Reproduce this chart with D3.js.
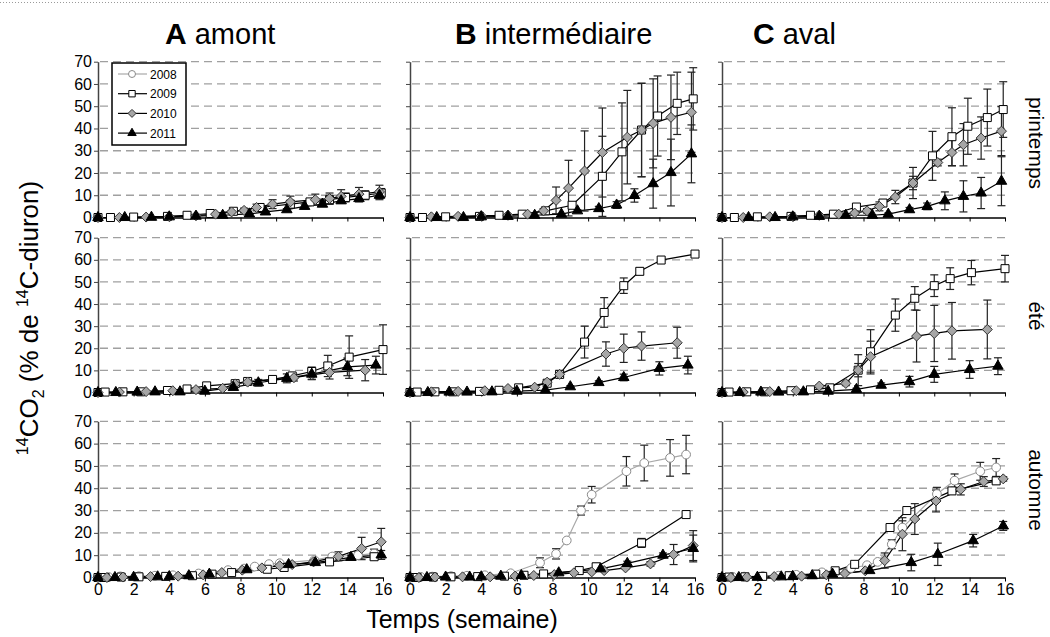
<!DOCTYPE html>
<html>
<head>
<meta charset="utf-8">
<script src="https://cdn.jsdelivr.net/npm/d3@7"></script>
<style>
  body { margin: 0; background: #fff; }
  svg { font-family: "Liberation Sans", Arial, sans-serif; }
</style>
</head>
<body>
<div id="chart"></div>
<script>
// ---- categories / ticks ----
const years = ['2008', '2009', '2010', '2011'];
const sites = ['amont', 'intermédiaire', 'aval'];
const siteLetters = ['A', 'B', 'C'];
const seasons = ['printemps', 'été', 'automne'];
const xTicks = [0, 2, 4, 6, 8, 10, 12, 14, 16];
const yTicks = [0, 10, 20, 30, 40, 50, 60, 70];

// ---- sampling times (semaines), per season and year ----
const tPrintemps2009 = [0, 0.7, 2, 3.9, 5.0, 6.3, 7.6, 9.1, 10.8, 11.9, 13.0, 13.9, 15.0, 15.9];
const tPrintemps2010 = [0, 1.2, 2.7, 4.0, 5.5, 6.6, 7.5, 8.2, 8.9, 9.8, 10.8, 12.2, 13.0, 13.65, 14.65, 15.8];
const tPrintemps2011 = [0, 1.5, 3.0, 4.0, 5.5, 7.0, 8.5, 9.4, 10.6, 11.6, 12.6, 13.65, 14.65, 15.8];
const tEte2009 = [0, 0.4, 1.4, 2.4, 3.9, 5.0, 6.1, 7.7, 8.4, 9.8, 10.9, 12.0, 12.9, 14.1, 16.0];
const tEte2010 = [0, 1.2, 2.7, 4.2, 5.5, 7.0, 7.7, 8.4, 11.0, 12.0, 13.0, 15.0];
const tEte2011 = [0, 1.0, 2.2, 3.2, 4.6, 6.0, 7.6, 9.0, 10.6, 12.0, 14.0, 15.6];
const tAutomne2008 = [0, 0.6, 1.25, 2.3, 3.2, 4.2, 5.65, 7.3, 8.2, 8.8, 9.6, 10.2, 12.15, 13.15, 14.6, 15.5];
const tAutomne2009 = [0, 0.4, 1.3, 2.3, 3.8, 5.3, 6.4, 7.5, 9.5, 10.45, 13.0, 15.5];
const tAutomne2010 = [0, 0.5, 1.4, 2.95, 4.5, 5.9, 6.95, 8.1, 9.2, 10.2, 10.9, 12.1, 13.5, 14.8, 15.9];
const tAutomne2011 = [0, 0.95, 2.0, 3.35, 4.0, 5.1, 6.25, 8.35, 10.7, 12.2, 14.2, 15.9];

// ---- 14CO2 values (% of 14C-diuron) and error bars ----
// printemps
const prAmont2009 = [0, 0, 0.2, 0.5, 1, 1.8, 2.8, 4.5, 6, 7, 8, 9, 10, 11];
const prAmont2009Err = [0, 0, 0, 0, 0, 0.3, 0.5, 1, 1.5, 1.5, 2, 2, 2, 2];
const prAmont2010 = [0, 0, 0.2, 0.4, 0.8, 1.5, 2.5, 3.2, 4.5, 6, 7, 8, 8.5, 9.5, 10.5, 11.5];
const prAmont2010Err = [0, 0, 0, 0, 0, 0.3, 0.5, 1, 1.5, 2, 2.6, 2.5, 2.5, 3, 3, 3];
const prAmont2011 = [0, 0, 0.1, 0.3, 0.6, 1, 1.6, 2.5, 3.5, 5, 6, 7.5, 8.5, 10];
const prAmont2011Err = [0, 0, 0, 0, 0, 0, 0, 0.5, 0.5, 1, 1, 1, 1.5, 2];
const prInter2009 = [0, 0, 0.3, 0.5, 1, 1.5, 3, 5.5, 18.5, 29.5, 39.3, 45.6, 51.3, 53.3];
const prInter2009Err = [0, 0, 0, 0, 0, 0, 0.5, 1, 18, 22, 21, 18, 14, 14];
const prInter2010 = [0, 0.3, 0.5, 0.8, 1, 1.5, 3, 7.7, 13.2, 20.9, 29.2, 36.1, 39.3, 42.3, 45, 47.3];
const prInter2010Err = [0, 0, 0, 0, 0, 0, 1, 6, 12.5, 18, 20, 21, 21, 20, 19, 18];
const prInter2011 = [0, 0, 0, 0.3, 0.5, 1, 1.5, 3, 4, 5.6, 9.9, 15.2, 20.2, 28.6];
const prInter2011Err = [0, 0, 0, 0, 0, 0, 0, 0.5, 1, 1.5, 3, 11, 15, 13];
const prAval2009 = [0, 0, 0.3, 0.5, 1, 1.5, 4.7, 6.5, 15.5, 27.7, 36.3, 41, 44.9, 48.5];
const prAval2009Err = [0, 0, 0, 0, 0, 0.5, 1, 1.5, 7, 11, 13, 12.6, 12.8, 12.5];
const prAval2010 = [0, 0, 0.3, 0.5, 1, 1.5, 2, 3, 5, 9.2, 15.5, 24.7, 29.2, 32.7, 35.7, 38.8];
const prAval2010Err = [0, 0, 0, 0, 0, 0, 0.5, 1, 2, 3, 3, 1.5, 6, 9.5, 9.5, 11];
const prAval2011 = [0, 0, 0, 0.3, 0.5, 1, 1, 1.5, 3.5, 5, 7.5, 9.5, 11, 16.3];
const prAval2011Err = [0, 0, 0, 0, 0, 0, 0, 0.5, 1, 1.5, 4, 7, 7, 11];
// été
const etAmont2009 = [0, 0.2, 0.3, 0.3, 0.9, 1.6, 3, 4, 5, 5.9, 7.5, 9.5, 12, 16, 19.4];
const etAmont2009Err = [0, 0, 0, 0, 0, 0, 0.5, 0.5, 0.8, 0.8, 1.5, 2, 4.8, 9.6, 11.2];
const etAmont2010 = [0, 0.2, 0.4, 0.8, 1.3, 1.9, 3.9, 4.7, 6.7, 8, 9.1, 10.1];
const etAmont2010Err = [0, 0, 0, 0, 0, 0.5, 1, 1, 1.5, 2, 3, 4.8];
const etAmont2011 = [0, 0, 0.2, 0.3, 0.3, 0.6, 2.3, 4.4, 6.4, 8.3, 11.6, 12.4];
const etAmont2011Err = [0, 0, 0, 0, 0, 0, 0.5, 1.5, 2, 2.5, 4, 4];
const etInter2009 = [0, 0.2, 0.3, 0.3, 0.5, 1, 2.1, 4.2, 8.2, 22.8, 36.2, 48.3, 54.8, 59.9, 62.6];
const etInter2009Err = [0, 0, 0, 0, 0, 0, 0.5, 1, 1, 7.2, 6.7, 3.5, 1.5, 0.5, 0.5];
const etInter2010 = [0, 0.3, 0.5, 0.8, 1.8, 2.4, 4.7, 8.2, 17.4, 20, 21, 22.5];
const etInter2010Err = [0, 0, 0, 0, 0, 0.5, 1, 1.5, 5.5, 6.4, 6.4, 7];
const etInter2011 = [0, 0, 0.2, 0.2, 0.3, 0.6, 1.1, 2.6, 4.5, 6.8, 10.9, 12.4];
const etInter2011Err = [0, 0, 0, 0, 0, 0, 0, 0.5, 0.8, 1.5, 3, 4];
const etAval2009 = [0, 0.2, 0.3, 0.3, 0.8, 1.2, 2.1, 10.1, 18.4, 35, 42.6, 48.3, 51.5, 54.2, 56];
const etAval2009Err = [0, 0, 0, 0, 0, 0, 0.5, 3, 10, 7.3, 5.3, 4.9, 4.9, 5.5, 6];
const etAval2010 = [0, 0.2, 0.4, 0.8, 2.9, 4.1, 10.1, 16.2, 25.5, 26.7, 27.9, 28.5];
const etAval2010Err = [0, 0, 0, 0, 0.5, 1, 7, 7, 11.7, 12.7, 12.8, 13.3];
const etAval2011 = [0, 0, 0.2, 0.2, 0.3, 0.6, 1.4, 3.3, 4.9, 8.2, 10.4, 11.9];
const etAval2011Err = [0, 0, 0, 0, 0, 0, 0.5, 1, 2.4, 3.6, 4, 3.8];
// automne
const auAmont2008 = [0, 0.2, 0.5, 0.6, 0.8, 1, 1.8, 3.3, 4, 4.9, 6, 6.4, 7.8, 9.4, 10, 10.7];
const auAmont2008Err = [0, 0, 0, 0, 0, 0, 0, 0, 0, 0, 0, 0, 0.5, 1, 1.5, 2];
const auAmont2009 = [0, 0, 0.2, 0.3, 0.5, 0.8, 1.5, 2.2, 3.7, 4.5, 7, 9.3];
const auAmont2009Err = [0, 0, 0, 0, 0, 0, 0, 0, 0, 0, 0.5, 1];
const auAmont2010 = [0, 0, 0.2, 0.4, 0.6, 1.2, 2.2, 3.3, 4.3, 5.3, 5.8, 7, 9.5, 13, 16];
const auAmont2010Err = [0, 0, 0, 0, 0, 0, 0, 0, 0, 0, 0.5, 1, 2, 5, 6];
const auAmont2011 = [0, 0, 0.1, 0.3, 0.4, 0.8, 1.5, 3.5, 5.8, 6.7, 9, 10.1];
const auAmont2011Err = [0, 0, 0, 0, 0, 0, 0, 0, 0, 0.5, 1, 2];
const auInter2008 = [0, 0.3, 0.4, 0.6, 0.8, 1, 1.9, 6.6, 10.6, 16.6, 30, 37.1, 47.6, 51.3, 53.6, 55.1];
const auInter2008Err = [0, 0, 0, 0, 0, 0, 0, 2.2, 2.3, 0, 2, 3.7, 6.6, 8, 8.2, 8.6];
const auInter2009 = [0, 0, 0.2, 0.3, 0.4, 0.6, 1, 1.6, 3.1, 4.8, 15.5, 28.2];
const auInter2009Err = [0, 0, 0, 0, 0, 0, 0, 0, 0.5, 1.5, 2, 0.5];
const auInter2010 = [0, 0, 0.2, 0.3, 0.3, 0.6, 0.9, 1.3, 2.1, 2.5, 3.1, 4.3, 6.1, 10.3, 14.3];
const auInter2010Err = [0, 0, 0, 0, 0, 0, 0, 0, 0, 0, 0, 0.5, 1, 4.5, 6.7];
const auInter2011 = [0, 0, 0.2, 0.2, 0.3, 0.6, 0.9, 2.1, 3.9, 6.3, 10, 13];
const auInter2011Err = [0, 0, 0, 0, 0, 0, 0, 0, 0.5, 1, 1, 6];
const auAval2008 = [0, 0.3, 0.4, 0.6, 0.8, 1.2, 2.3, 4.2, 5.5, 7, 14.9, 22.4, 37.4, 43.4, 47.6, 49.3];
const auAval2008Err = [0, 0, 0, 0, 0, 0, 0, 0, 0, 0, 2, 3, 3, 3, 4, 4];
const auAval2009 = [0, 0.2, 0.3, 0.5, 0.8, 1.5, 3, 5.9, 22.4, 30, 38.8, 43.3];
const auAval2009Err = [0, 0, 0, 0, 0, 0, 0, 0, 0, 1, 1.5, 1.5];
const auAval2010 = [0, 0, 0.2, 0.4, 0.6, 1.2, 1.8, 3, 7.6, 19.4, 26.2, 34.3, 39.5, 43, 44.2];
const auAval2010Err = [0, 0, 0, 0, 0, 0, 0, 0, 3.4, 7.4, 6.9, 4.9, 2.5, 2.2, 1];
const auAval2011 = [0, 0, 0.1, 0.3, 0.5, 0.8, 1.5, 3.1, 6.7, 10.4, 16.5, 23.1];
const auAval2011Err = [0, 0, 0, 0, 0, 0, 0, 0, 3.7, 5, 2.8, 2];

// season, site, year, times, values, errors
const seriesTable = [
  ['printemps', 'amont', '2009', tPrintemps2009, prAmont2009, prAmont2009Err],
  ['printemps', 'amont', '2010', tPrintemps2010, prAmont2010, prAmont2010Err],
  ['printemps', 'amont', '2011', tPrintemps2011, prAmont2011, prAmont2011Err],
  ['printemps', 'intermédiaire', '2009', tPrintemps2009, prInter2009, prInter2009Err],
  ['printemps', 'intermédiaire', '2010', tPrintemps2010, prInter2010, prInter2010Err],
  ['printemps', 'intermédiaire', '2011', tPrintemps2011, prInter2011, prInter2011Err],
  ['printemps', 'aval', '2009', tPrintemps2009, prAval2009, prAval2009Err],
  ['printemps', 'aval', '2010', tPrintemps2010, prAval2010, prAval2010Err],
  ['printemps', 'aval', '2011', tPrintemps2011, prAval2011, prAval2011Err],
  ['été', 'amont', '2009', tEte2009, etAmont2009, etAmont2009Err],
  ['été', 'amont', '2010', tEte2010, etAmont2010, etAmont2010Err],
  ['été', 'amont', '2011', tEte2011, etAmont2011, etAmont2011Err],
  ['été', 'intermédiaire', '2009', tEte2009, etInter2009, etInter2009Err],
  ['été', 'intermédiaire', '2010', tEte2010, etInter2010, etInter2010Err],
  ['été', 'intermédiaire', '2011', tEte2011, etInter2011, etInter2011Err],
  ['été', 'aval', '2009', tEte2009, etAval2009, etAval2009Err],
  ['été', 'aval', '2010', tEte2010, etAval2010, etAval2010Err],
  ['été', 'aval', '2011', tEte2011, etAval2011, etAval2011Err],
  ['automne', 'amont', '2008', tAutomne2008, auAmont2008, auAmont2008Err],
  ['automne', 'amont', '2009', tAutomne2009, auAmont2009, auAmont2009Err],
  ['automne', 'amont', '2010', tAutomne2010, auAmont2010, auAmont2010Err],
  ['automne', 'amont', '2011', tAutomne2011, auAmont2011, auAmont2011Err],
  ['automne', 'intermédiaire', '2008', tAutomne2008, auInter2008, auInter2008Err],
  ['automne', 'intermédiaire', '2009', tAutomne2009, auInter2009, auInter2009Err],
  ['automne', 'intermédiaire', '2010', tAutomne2010, auInter2010, auInter2010Err],
  ['automne', 'intermédiaire', '2011', tAutomne2011, auInter2011, auInter2011Err],
  ['automne', 'aval', '2008', tAutomne2008, auAval2008, auAval2008Err],
  ['automne', 'aval', '2009', tAutomne2009, auAval2009, auAval2009Err],
  ['automne', 'aval', '2010', tAutomne2010, auAval2010, auAval2010Err],
  ['automne', 'aval', '2011', tAutomne2011, auAval2011, auAval2011Err]
];

// ---- layout ----
const W = 1050, H = 637;
const colRange = [[98, 383], [410, 695], [722, 1005]];          // x(0), x(16)
const rowRange = [[217.5, 61.7], [392.5, 237.7], [577.5, 421.3]]; // y(0), y(70)
const titleX = [165, 455, 753];
const seasonLabelY = [143, 316, 490];

const yearStyle = {
  '2008': { line: '#a8a8a8', fill: '#ffffff', stroke: '#8a8a8a', shape: 'circle' },
  '2009': { line: '#000000', fill: '#ffffff', stroke: '#000000', shape: 'square' },
  '2010': { line: '#000000', fill: '#a6a6a6', stroke: '#333333', shape: 'diamond' },
  '2011': { line: '#000000', fill: '#000000', stroke: '#000000', shape: 'triangle' }
};

function markerPath(shape, k = 1) {
  if (shape === 'circle') return d3.symbol(d3.symbolCircle, 60 * k * k)();
  if (shape === 'square') return d3.symbol(d3.symbolSquare, 64 * k * k)();
  if (shape === 'triangle') return d3.symbol(d3.symbolTriangle, 48 * k * k)();
  const r = 5 * k;
  return `M0,${-r}L${r},0L0,${r}L${-r},0Z`;
}

const svg = d3.select('#chart').append('svg')
  .attr('width', W)
  .attr('height', H);

// dotted frame line at top
svg.append('line')
  .attr('x1', 0).attr('x2', W).attr('y1', 2.5).attr('y2', 2.5)
  .attr('stroke', '#9a9a9a').attr('stroke-width', 1).attr('stroke-dasharray', '1,2');

seasons.forEach((season, i) => {
  sites.forEach((site, j) => {
    const x = d3.scaleLinear().domain([0, 16]).range(colRange[j]);
    const y = d3.scaleLinear().domain([0, 70]).range(rowRange[i]);
    const g = svg.append('g').attr('class', `panel ${season}-${j}`);

    // dashed grid
    g.append('g').selectAll('line')
      .data(yTicks.filter(v => v > 0))
      .join('line')
      .attr('x1', x(0) + 2).attr('x2', x(16))
      .attr('y1', d => y(d)).attr('y2', d => y(d))
      .attr('stroke', '#a0a0a0')
      .attr('stroke-width', 1.3)
      .attr('stroke-dasharray', '8,5');

    // axes
    const yAxis = d3.axisLeft(y).tickValues(yTicks).tickSize(4).tickSizeOuter(0)
      .tickFormat(j === 0 ? d3.format('d') : () => '');
    const ya = g.append('g').attr('transform', `translate(${x(0)},0)`).call(yAxis);
    ya.select('.domain').attr('stroke', '#444').attr('stroke-width', 1.5);
    ya.selectAll('.tick line').attr('stroke', '#444');
    ya.selectAll('.tick text').attr('font-size', 16).attr('fill', '#000')
      .attr('font-family', '"Liberation Sans", Arial, sans-serif').attr('x', -6);

    const xAxis = d3.axisBottom(x).tickValues(xTicks).tickSize(4).tickSizeOuter(0)
      .tickFormat(i === 2 ? d3.format('d') : () => '');
    const xa = g.append('g').attr('transform', `translate(0,${y(0)})`).call(xAxis);
    xa.select('.domain').attr('stroke', '#000').attr('stroke-width', 1.3);
    xa.selectAll('.tick line').attr('stroke', '#000');
    xa.selectAll('.tick text').attr('font-size', 16).attr('fill', '#000')
      .attr('font-family', '"Liberation Sans", Arial, sans-serif').attr('y', 6);

    const rows = seriesTable.filter(r => r[0] === season && r[1] === site);
    const series = rows.map(r => ({
      year: r[2],
      points: r[3].map((t, k) => ({ t, v: r[4][k], e: r[5][k] }))
    }));

    const line = d3.line().x(d => x(d.t)).y(d => y(d.v));

    series.forEach(s => {
      const st = yearStyle[s.year];
      g.append('path')
        .datum(s.points)
        .attr('d', line)
        .attr('fill', 'none')
        .attr('stroke', st.line)
        .attr('stroke-width', 1.2);
    });

    series.forEach(s => {
      const pts = s.points.filter(p => p.e > 0.4);
      const eb = g.append('g').selectAll('g').data(pts).join('g');
      eb.append('line')
        .attr('x1', d => x(d.t)).attr('x2', d => x(d.t))
        .attr('y1', d => y(d.v + d.e)).attr('y2', d => y(Math.max(0, d.v - d.e)))
        .attr('stroke', '#222').attr('stroke-width', 1.2);
      eb.append('line')
        .attr('x1', d => x(d.t) - 4).attr('x2', d => x(d.t) + 4)
        .attr('y1', d => y(d.v + d.e)).attr('y2', d => y(d.v + d.e))
        .attr('stroke', '#222').attr('stroke-width', 1.2);
      eb.filter(d => d.v - d.e > 0).append('line')
        .attr('x1', d => x(d.t) - 4).attr('x2', d => x(d.t) + 4)
        .attr('y1', d => y(d.v - d.e)).attr('y2', d => y(d.v - d.e))
        .attr('stroke', '#222').attr('stroke-width', 1.2);
    });

    series.forEach(s => {
      const st = yearStyle[s.year];
      g.append('g').selectAll('path')
        .data(s.points)
        .join('path')
        .attr('transform', d => `translate(${x(d.t)},${y(d.v)})`)
        .attr('d', markerPath(st.shape))
        .attr('fill', st.fill)
        .attr('stroke', st.stroke)
        .attr('stroke-width', 1);
    });

    // column titles
    if (i === 0) {
      const tt = svg.append('text')
        .attr('x', titleX[j]).attr('y', 44)
        .attr('font-size', 30).attr('fill', '#000');
      tt.append('tspan').attr('font-weight', 'bold').text(siteLetters[j]);
      tt.append('tspan').attr('font-weight', 'normal').attr('font-size', 29).text(' ' + site);
    }

    // season labels at right
    if (j === 2) {
      svg.append('text')
        .attr('transform', `translate(1029,${seasonLabelY[i]}) rotate(90)`)
        .attr('text-anchor', 'middle')
        .attr('font-size', 21)
        .text(season);
    }
  });
});

// legend (top-left panel)
const legend = svg.append('g').attr('class', 'legend');
legend.append('rect')
  .attr('x', 112).attr('y', 63).attr('width', 74).attr('height', 82)
  .attr('fill', '#fff').attr('stroke', '#000').attr('stroke-width', 1.5);
years.forEach((yr, k) => {
  const st = yearStyle[yr];
  const ly = 74 + k * 19.7;
  legend.append('line')
    .attr('x1', 118).attr('x2', 147).attr('y1', ly).attr('y2', ly)
    .attr('stroke', st.line).attr('stroke-width', 1.2);
  legend.append('path')
    .attr('transform', `translate(132,${ly})`)
    .attr('d', markerPath(st.shape, 0.8))
    .attr('fill', st.fill).attr('stroke', st.stroke);
  legend.append('text')
    .attr('x', 150).attr('y', ly + 4.5)
    .attr('font-size', 12)
    .text(yr);
});

// axis titles
svg.append('text')
  .attr('x', 462).attr('y', 628)
  .attr('text-anchor', 'middle')
  .attr('font-size', 25)
  .text('Temps (semaine)');

const yTitle = svg.append('text')
  .attr('transform', 'translate(38,318) rotate(-90)')
  .attr('text-anchor', 'middle')
  .attr('font-size', 26);
yTitle.append('tspan').attr('font-size', 16).attr('dy', -10).text('14');
yTitle.append('tspan').attr('dy', 10).text('CO');
yTitle.append('tspan').attr('font-size', 16).attr('dy', 6).text('2');
yTitle.append('tspan').attr('dy', -6).text(' (% de ');
yTitle.append('tspan').attr('font-size', 16).attr('dy', -10).text('14');
yTitle.append('tspan').attr('dy', 10).text('C-diuron)');
</script>
</body>
</html>
